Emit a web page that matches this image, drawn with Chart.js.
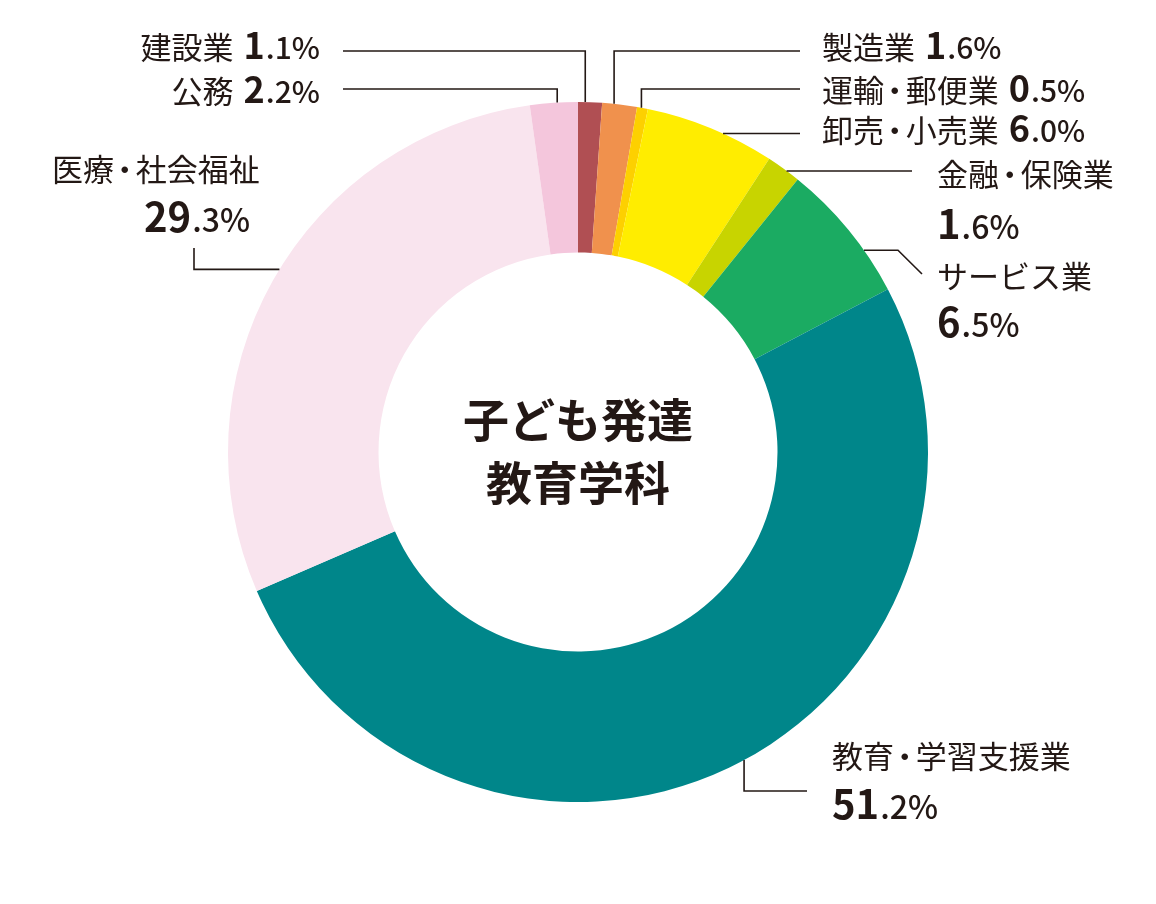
<!DOCTYPE html>
<html lang="ja">
<head>
<meta charset="utf-8">
<title>子ども発達教育学科 業種別就職状況</title>
<script src="https://cdn.jsdelivr.net/npm/chart.js@4.4.1/dist/chart.umd.min.js"></script>
<style>
  html, body { margin: 0; padding: 0; background: #fff; }
  #chart-wrap { position: relative; width: 1156px; height: 904px; }
</style>
</head>
<body>
<div id="chart-wrap"><canvas id="industry-chart" width="1156" height="904"></canvas></div>
<script>
// Data: share of graduates by industry (%), clockwise from 12 o'clock
const industries = ['建設業', '製造業', '運輸・郵便業', '卸売・小売業', '金融・保険業', 'サービス業', '教育・学習支援業', '医療・社会福祉', '公務'];
const shares = [1.1, 1.6, 0.5, 6.0, 1.6, 6.5, 51.2, 29.3, 2.2];
const sliceColors = ['#b04f53', '#f0914d', '#fdd000', '#ffed00', '#c8d400', '#1bab62', '#00868a', '#f9e4ee', '#f4c6dc'];
const centerTitle = ['子ども発達', '教育学科'];

const inkColor = '#231815';
const fontFamily = "'Noto Sans CJK JP', 'Noto Sans', sans-serif";
const nameSize = 31;

// Where each label sits and how its leader line runs.
// t = position along the slice where the line leaves the ring (0..1)
// route steps: ['v', y] vertical to y, ['h', x] horizontal to x, ['p', x, y] straight to point
const labelLayout = [
    { index: 0, t: 0.3, route: [['v', 51], ['h', 343]], x: 320, y: 48, align: 'right', inline: true },
    { index: 8, t: 0.57, route: [['v', 89], ['h', 343]], x: 320, y: 92, align: 'right', inline: true },
    { index: 1, t: 0.34, route: [['v', 51], ['h', 800]], x: 822, y: 48, align: 'left', inline: true },
    { index: 2, t: 0.4, route: [['v', 89], ['h', 800]], x: 822, y: 91, align: 'left', inline: true },
    { index: 3, t: 0.6, route: [['h', 800]], x: 822, y: 131, align: 'left', inline: true },
    { index: 4, t: 0.6, route: [['h', 912]], x: 937, y: 175, y2: 225, align: 'left' },
    { index: 5, t: 0.68, route: [['h', 898], ['p', 922, 274]], x: 937, y: 277, y2: 323, align: 'left' },
    { index: 6, t: 0.485, route: [['v', 791], ['h', 807]], x: 832, y: 757, y2: 805, align: 'left' },
    { index: 7, t: 0.52, route: [['h', 194], ['v', 248]], x: 52, y: 170, y2: 218, align: 'left', valueX: 250, valueAlign: 'right' },
];

/**
 * Split a share into its integer part and the smaller ".d%" tail.
 */
function valueParts(v) {
    const parts = v.toFixed(1).split('.');
    return [parts[0], '.' + parts[1] + '%'];
}

function measureValue(ctx, v, big, small) {
    const [intPart, tail] = valueParts(v);
    ctx.font = `700 ${big}px ${fontFamily}`;
    const w1 = ctx.measureText(intPart).width;
    ctx.font = `500 ${small}px ${fontFamily}`;
    const w2 = ctx.measureText(tail).width;
    return w1 + w2 + 1;
}

function drawValue(ctx, x, baseline, v, big, small) {
    const [intPart, tail] = valueParts(v);
    ctx.textAlign = 'left';
    ctx.font = `700 ${big}px ${fontFamily}`;
    ctx.fillText(intPart, x, baseline);
    const w1 = ctx.measureText(intPart).width;
    ctx.font = `500 ${small}px ${fontFamily}`;
    ctx.fillText(tail, x + w1 + 1, baseline);
}

// Names with a tightened middle dot (proportional "・" like the print version)
const dotAdvance = 0.7;
function measureName(ctx, name) {
    ctx.font = `400 ${nameSize}px ${fontFamily}`;
    const pieces = name.split('・');
    let w = 0;
    pieces.forEach((s, i) => {
        w += ctx.measureText(s).width;
        if (i < pieces.length - 1) w += nameSize * dotAdvance;
    });
    return w;
}

function drawName(ctx, name, x, baseline) {
    ctx.font = `400 ${nameSize}px ${fontFamily}`;
    ctx.textAlign = 'left';
    const pieces = name.split('・');
    let cx = x;
    pieces.forEach((s, i) => {
        ctx.fillText(s, cx, baseline);
        cx += ctx.measureText(s).width;
        if (i < pieces.length - 1) {
            const dw = ctx.measureText('・').width;
            ctx.fillText('・', cx + (nameSize * dotAdvance - dw) / 2, baseline);
            cx += nameSize * dotAdvance;
        }
    });
}

const leaderLabels = {
    id: 'leaderLabels',
    afterDraw(chart) {
        const ctx = chart.ctx;
        const arcs = chart.getDatasetMeta(0).data;
        ctx.save();
        ctx.strokeStyle = inkColor;
        ctx.fillStyle = inkColor;
        ctx.lineWidth = 1.6;
        ctx.textBaseline = 'alphabetic';

        labelLayout.forEach(item => {
            const p = arcs[item.index].getProps(['x', 'y', 'startAngle', 'endAngle', 'outerRadius'], true);
            const angle = p.startAngle + (p.endAngle - p.startAngle) * item.t;
            let x = p.x + Math.cos(angle) * p.outerRadius;
            let y = p.y + Math.sin(angle) * p.outerRadius;

            // Leader line
            ctx.beginPath();
            ctx.moveTo(x, y);
            item.route.forEach(step => {
                if (step[0] === 'v') y = step[1];
                else if (step[0] === 'h') x = step[1];
                else { x = step[1]; y = step[2]; }
                ctx.lineTo(x, y);
            });
            ctx.stroke();

            const name = industries[item.index];
            const value = shares[item.index];

            if (item.inline) {
                const big = 36, small = 30, gap = 10;
                const nameW = measureName(ctx, name);
                const valW = measureValue(ctx, value, big, small);
                const total = nameW + gap + valW;
                const startX = item.align === 'right' ? item.x - total : item.x;
                const baseline = item.y + 11;
                drawName(ctx, name, startX, baseline);
                drawValue(ctx, startX + nameW + gap, baseline, value, big, small);
            } else {
                const big = 40, small = 32;
                const nameW = measureName(ctx, name);
                const nx = item.align === 'right' ? item.x - nameW : item.x;
                drawName(ctx, name, nx, item.y + 11);
                const valW = measureValue(ctx, value, big, small);
                const vx = item.valueX !== undefined ? item.valueX : item.x;
                const vAlign = item.valueAlign || item.align;
                const startX = vAlign === 'right' ? vx - valW : vx;
                drawValue(ctx, startX, item.y2 + 14, value, big, small);
            }
        });

        // Title in the hole
        const c = arcs[0].getProps(['x', 'y'], true);
        ctx.font = `700 46px ${fontFamily}`;
        ctx.textAlign = 'center';
        ctx.textBaseline = 'middle';
        ctx.fillText(centerTitle[0], c.x, c.y - 32);
        ctx.fillText(centerTitle[1], c.x, c.y + 31);
        ctx.restore();
    }
};

const ctx = document.getElementById('industry-chart').getContext('2d');
new Chart(ctx, {
    type: 'doughnut',
    data: {
        labels: industries,
        datasets: [
            {
                data: shares,
                backgroundColor: sliceColors,
                borderWidth: 0,
            },
        ],
    },
    options: {
        responsive: false,
        animation: false,
        devicePixelRatio: 1,
        rotation: 0,
        circumference: 360,
        cutout: '57%',
        layout: { padding: 102 },
        plugins: {
            legend: { display: false },
            tooltip: { enabled: false },
        },
    },
    plugins: [leaderLabels],
});
</script>
</body>
</html>
